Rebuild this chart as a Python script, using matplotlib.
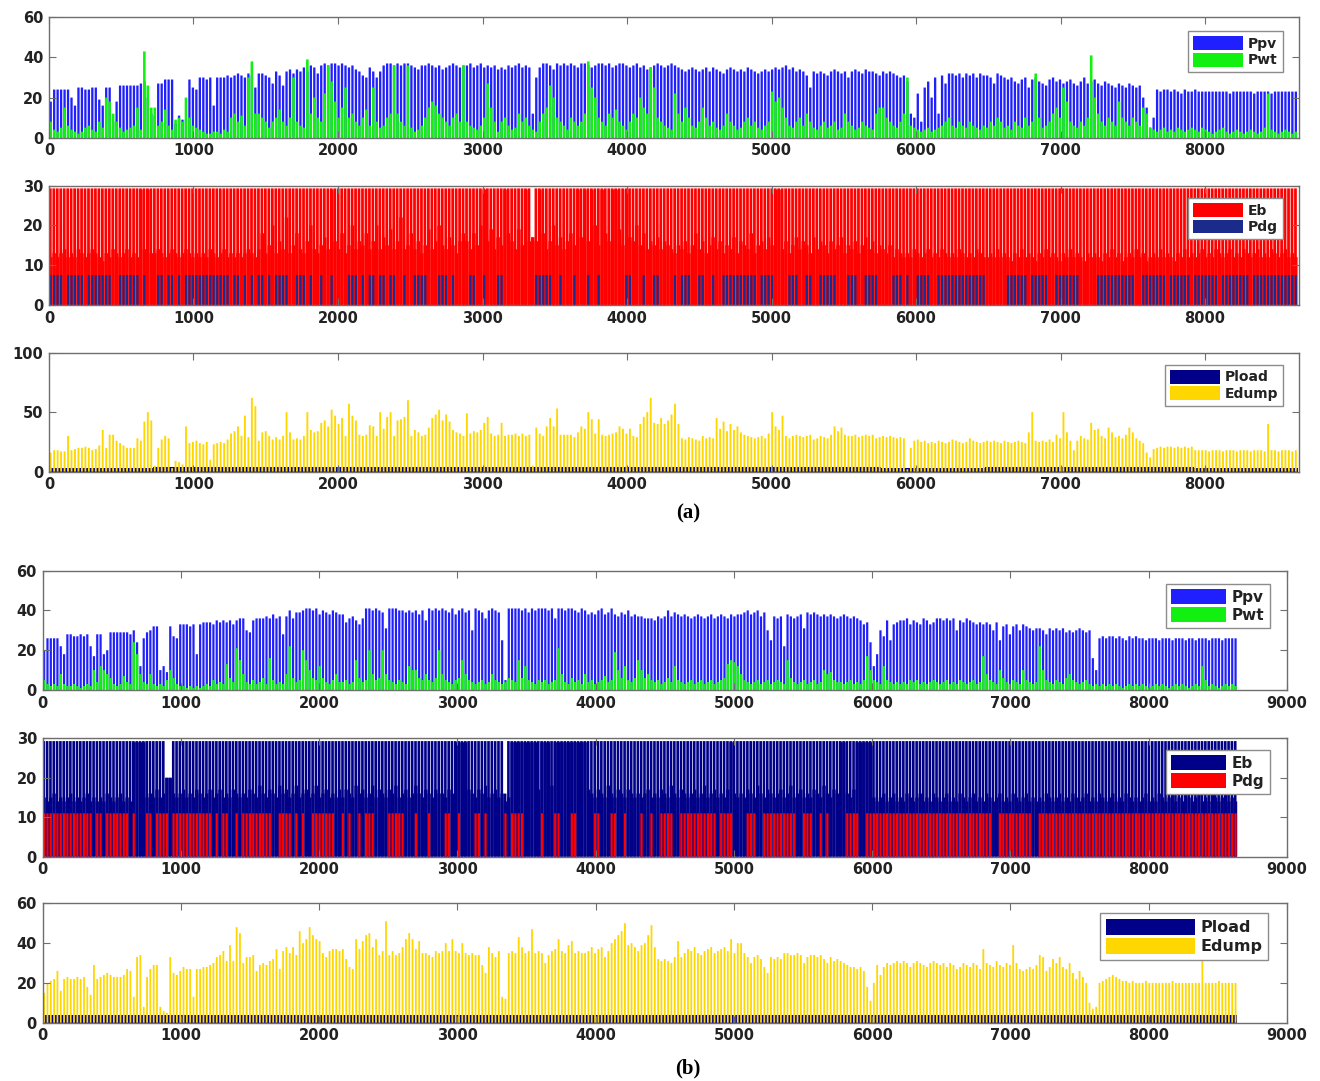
import numpy as np
import matplotlib
matplotlib.use("Agg")
import matplotlib.pyplot as plt
from matplotlib.patches import Patch

# ---- daily peak values, one row per 30-day block (360 days = 8640 h) ----
ppv_a = [
    18, 24, 24, 24, 24, 24, 20, 16, 25, 25, 24, 24, 25, 25, 19, 16, 25, 25, 8, 18, 26, 26, 26, 26, 26, 26, 27, 28, 20, 12,
    11, 27, 27, 29, 29, 29, 7, 11, 9, 9, 29, 25, 24, 30, 30, 29, 30, 16, 30, 30, 30, 31, 30, 31, 32, 31, 30, 32, 31, 25,
    32, 32, 31, 30, 27, 33, 31, 26, 33, 34, 32, 34, 33, 35, 33, 36, 35, 32, 36, 37, 36, 37, 37, 36, 37, 36, 35, 36, 34, 33,
    31, 30, 35, 33, 30, 33, 36, 37, 37, 36, 37, 36, 37, 37, 36, 35, 34, 36, 36, 37, 36, 35, 36, 34, 35, 36, 37, 36, 35, 36,
    36, 37, 35, 36, 37, 35, 36, 35, 36, 34, 35, 34, 36, 35, 36, 37, 35, 36, 35, 12, 30, 35, 37, 37, 36, 34, 37, 36, 37, 36,
    37, 36, 35, 37, 37, 36, 35, 36, 37, 37, 36, 37, 35, 36, 37, 37, 36, 35, 36, 37, 35, 36, 34, 35, 36, 37, 36, 35, 36, 37,
    36, 35, 34, 33, 34, 35, 34, 33, 34, 35, 33, 35, 34, 33, 32, 34, 35, 34, 33, 34, 33, 35, 34, 33, 32, 33, 34, 33, 34, 35,
    34, 35, 36, 34, 35, 33, 34, 33, 31, 25, 33, 32, 33, 32, 31, 33, 34, 33, 32, 33, 30, 33, 34, 33, 32, 34, 33, 33, 32, 31,
    33, 32, 33, 32, 31, 30, 31, 28, 12, 10, 22, 8, 25, 28, 20, 30, 12, 31, 27, 32, 32, 31, 32, 30, 32, 31, 32, 30, 32, 31,
    31, 30, 27, 32, 31, 30, 29, 30, 28, 27, 29, 30, 25, 29, 30, 28, 27, 26, 29, 30, 28, 29, 27, 28, 29, 27, 26, 28, 30, 27,
    28, 29, 27, 26, 28, 27, 26, 25, 27, 26, 25, 27, 26, 25, 26, 20, 15, 5, 10, 24, 23, 24, 24, 23, 24, 23, 22, 24, 23, 23,
    24, 23, 23, 23, 23, 23, 23, 23, 23, 23, 22, 23, 23, 23, 23, 23, 23, 22, 23, 23, 23, 23, 22, 23, 23, 23, 23, 23, 23, 23,
]
pwt_a = [
    8, 4, 3, 5, 15, 6, 4, 3, 2, 3, 5, 6, 4, 3, 8, 5, 20, 18, 12, 8, 5, 3, 4, 5, 6, 15, 4, 43, 26, 15,
    15, 6, 8, 14, 6, 4, 9, 10, 8, 20, 10, 6, 5, 4, 3, 2, 2, 3, 3, 2, 4, 3, 10, 12, 8, 11, 6, 30, 38, 12,
    12, 10, 8, 5, 8, 10, 14, 8, 6, 10, 30, 8, 6, 5, 39, 12, 20, 10, 8, 22, 36, 28, 18, 10, 15, 25, 10, 12, 8, 6,
    10, 14, 6, 25, 8, 5, 6, 10, 12, 36, 12, 8, 6, 36, 5, 3, 4, 6, 10, 15, 18, 16, 12, 10, 8, 6, 10, 12, 8, 36,
    8, 6, 5, 4, 6, 10, 27, 15, 8, 3, 8, 10, 6, 4, 5, 12, 8, 10, 6, 4, 3, 8, 12, 15, 26, 20, 10, 8, 6, 4,
    10, 8, 6, 8, 12, 38, 25, 20, 10, 8, 6, 12, 10, 14, 8, 6, 4, 8, 12, 10, 20, 15, 12, 35, 25, 10, 8, 6, 5, 4,
    22, 12, 8, 15, 10, 6, 5, 8, 15, 10, 6, 8, 5, 4, 6, 12, 8, 6, 4, 5, 8, 10, 6, 8, 5, 4, 6, 8, 23, 18,
    20, 15, 10, 6, 5, 8, 10, 6, 12, 8, 5, 4, 6, 8, 5, 6, 8, 4, 5, 12, 8, 6, 4, 5, 8, 6, 5, 4, 12, 15,
    15, 10, 8, 6, 5, 8, 12, 30, 6, 5, 4, 3, 4, 5, 3, 4, 5, 6, 8, 10, 6, 5, 8, 6, 5, 8, 6, 5, 4, 6,
    5, 8, 6, 10, 8, 5, 6, 4, 8, 6, 5, 10, 6, 8, 32, 10, 5, 6, 8, 12, 15, 10, 25, 18, 8, 6, 5, 8, 6, 10,
    41, 20, 12, 8, 6, 10, 8, 6, 18, 10, 8, 6, 10, 8, 6, 15, 12, 5, 4, 3, 4, 5, 3, 4, 3, 5, 4, 3, 4, 5,
    4, 3, 5, 4, 3, 2, 3, 4, 5, 3, 2, 3, 4, 3, 2, 3, 4, 3, 2, 3, 5, 22, 4, 3, 2, 3, 4, 3, 2, 3,
]
# nightly minimum of battery energy (29 = stayed full)
eb_min_a = [
    12, 13, 12, 13, 14, 12, 13, 12, 14, 13, 12, 13, 14, 13, 12, 11, 13, 12, 14, 13, 12, 13, 14, 12, 13, 12, 29, 14, 29, 13,
    13, 14, 13, 12, 13, 14, 13, 12, 13, 14, 13, 12, 13, 12, 13, 12, 14, 13, 12, 13, 14, 12, 13, 12, 13, 12, 13, 14, 13, 12,
    14, 18, 13, 15, 20, 13, 16, 14, 22, 13, 15, 18, 14, 13, 16, 20, 14, 13, 15, 17, 14, 29, 16, 14, 18, 13, 15, 20, 14, 16,
    15, 18, 14, 16, 20, 14, 17, 15, 19, 14, 16, 22, 14, 15, 18, 14, 16, 13, 15, 19, 14, 16, 20, 15, 14, 17, 15, 13, 16, 18,
    16, 14, 18, 15, 20, 29, 16, 19, 14, 17, 15, 29, 18, 16, 14, 19, 15, 29, 16, 17, 16, 29, 18, 14, 16, 20, 15, 17, 14, 16,
    18, 15, 29, 17, 29, 16, 29, 20, 15, 29, 18, 16, 29, 29, 19, 15, 29, 17, 16, 20, 15, 18, 14, 16, 15, 17, 14, 16, 15, 14,
    13, 15, 14, 16, 13, 15, 18, 14, 16, 13, 15, 17, 14, 16, 13, 15, 14, 17, 13, 16, 15, 14, 18, 13, 15, 16, 14, 17, 15, 29,
    29, 14, 16, 13, 15, 17, 14, 16, 15, 13, 17, 14, 16, 15, 13, 16, 14, 15, 17, 13, 15, 14, 16, 13, 15, 17, 14, 16, 13, 15,
    14, 13, 15, 12, 14, 13, 12, 13, 12, 14, 13, 12, 13, 14, 12, 13, 12, 14, 13, 12, 13, 12, 14, 13, 12, 13, 12, 14, 13, 12,
    12, 13, 12, 14, 12, 13, 12, 11, 13, 12, 14, 12, 13, 12, 11, 13, 12, 14, 12, 13, 12, 11, 13, 12, 14, 12, 13, 12, 11, 13,
    12, 13, 12, 11, 13, 12, 14, 12, 13, 11, 12, 13, 12, 14, 12, 13, 11, 12, 13, 12, 14, 12, 13, 12, 11, 13, 12, 14, 12, 13,
    12, 13, 14, 12, 13, 12, 14, 13, 12, 13, 14, 12, 13, 12, 14, 13, 12, 13, 14, 12, 13, 12, 14, 13, 12, 13, 14, 12, 13, 12,
]
eb_notch_a = {139: 17}
# generator on-days as (first, last) runs
pdg_runs_a = [(0, 3), (5, 9), (11, 17), (20, 25), (27, 27), (31, 32), (34, 35), (37, 37), (39, 51), (53, 54),
              (56, 56), (58, 58), (60, 61), (63, 63), (65, 68), (71, 73), (75, 75), (78, 78), (81, 81), (86, 88),
              (90, 90), (92, 93), (95, 96), (98, 99), (102, 102), (105, 108), (112, 114), (116, 116), (121, 122),
              (125, 125), (129, 130), (140, 144), (147, 147), (151, 151), (155, 155), (158, 158), (166, 167),
              (171, 171), (174, 175), (180, 180), (182, 184), (187, 188), (191, 191), (194, 203), (205, 208),
              (213, 215), (218, 219), (222, 226), (230, 232), (235, 238), (243, 245), (247, 247), (250, 253),
              (256, 269), (276, 281), (283, 287), (290, 296), (302, 312), (315, 321), (323, 328), (330, 336),
              (338, 345), (347, 359)]
edump_a = [
    16, 18, 18, 17, 17, 30, 18, 19, 20, 20, 21, 20, 18, 19, 22, 35, 20, 31, 31, 26, 24, 22, 20, 20, 20, 28, 26, 42, 50, 43,
    5, 20, 27, 30, 28, 3, 9, 8, 6, 38, 24, 25, 26, 24, 23, 25, 10, 23, 24, 25, 24, 27, 32, 34, 38, 30, 47, 29, 62, 55,
    26, 33, 34, 30, 27, 29, 27, 30, 50, 33, 27, 28, 27, 30, 50, 35, 33, 34, 41, 43, 38, 52, 47, 40, 45, 30, 57, 47, 43, 31,
    30, 31, 39, 38, 30, 50, 36, 46, 50, 30, 43, 44, 46, 60, 30, 35, 33, 30, 31, 37, 45, 48, 52, 43, 48, 42, 35, 33, 32, 30,
    49, 32, 34, 33, 35, 41, 46, 32, 30, 31, 41, 30, 31, 31, 32, 30, 32, 30, 31, 5, 37, 32, 30, 38, 45, 38, 53, 31, 31, 31,
    31, 29, 33, 38, 36, 50, 44, 32, 44, 31, 30, 31, 32, 33, 38, 36, 32, 36, 30, 29, 40, 46, 50, 62, 41, 40, 45, 40, 43, 48,
    57, 40, 28, 27, 29, 28, 27, 26, 30, 28, 29, 28, 45, 36, 42, 34, 40, 35, 38, 33, 31, 30, 29, 28, 29, 30, 28, 32, 50, 38,
    35, 47, 30, 28, 30, 31, 30, 29, 30, 31, 27, 28, 30, 29, 28, 31, 38, 34, 37, 31, 30, 30, 31, 29, 30, 31, 30, 31, 28, 29,
    30, 29, 30, 29, 28, 29, 28, 2, 20, 26, 27, 25, 26, 24, 25, 24, 26, 25, 24, 25, 27, 26, 25, 24, 25, 28, 26, 25, 24, 25,
    26, 25, 26, 25, 24, 26, 25, 24, 25, 26, 25, 24, 33, 50, 26, 25, 26, 25, 27, 25, 31, 28, 50, 33, 26, 18, 26, 30, 28, 27,
    41, 35, 36, 30, 28, 37, 33, 29, 30, 28, 31, 37, 33, 28, 26, 24, 16, 12, 19, 20, 21, 20, 21, 21, 20, 21, 20, 21, 20, 21,
    18, 18, 18, 18, 17, 18, 18, 18, 17, 18, 18, 18, 17, 18, 18, 18, 17, 18, 18, 18, 17, 40, 18, 18, 17, 18, 18, 18, 17, 18,
]
pload_a = [3.4, 3.5, 3.5, 3.6, 3.6, 3.5, 3.5, 3.5, 3.4, 3.5, 3.5, 3.4]   # monthly

ppv_b = [
    20, 26, 26, 26, 26, 22, 18, 28, 28, 27, 27, 28, 27, 28, 22, 17, 28, 28, 18, 20, 29, 29, 29, 29, 29, 29, 28, 30, 24, 12,
    26, 29, 30, 32, 32, 10, 12, 9, 32, 27, 26, 33, 33, 33, 32, 33, 18, 33, 34, 34, 34, 33, 35, 34, 35, 34, 35, 33, 35, 36,
    36, 30, 29, 35, 36, 36, 36, 37, 36, 38, 36, 37, 28, 37, 40, 36, 39, 39, 40, 41, 41, 40, 41, 38, 40, 39, 38, 40, 39, 38,
    38, 34, 36, 37, 35, 33, 36, 41, 41, 40, 41, 40, 39, 31, 41, 41, 41, 40, 40, 39, 40, 39, 40, 38, 40, 35, 41, 40, 41, 40,
    41, 40, 39, 41, 38, 40, 41, 39, 40, 30, 41, 40, 39, 36, 40, 41, 40, 39, 25, 5, 41, 41, 41, 41, 40, 41, 39, 41, 40, 41,
    41, 41, 40, 41, 36, 41, 41, 40, 41, 41, 40, 39, 41, 40, 38, 39, 38, 40, 41, 38, 39, 41, 38, 37, 39, 38, 40, 37, 38, 37,
    37, 36, 36, 36, 35, 37, 36, 37, 40, 37, 39, 38, 37, 38, 37, 36, 37, 38, 37, 36, 37, 38, 36, 37, 38, 37, 36, 38, 37, 38,
    38, 39, 40, 38, 39, 40, 37, 39, 30, 25, 37, 36, 37, 22, 38, 37, 36, 37, 38, 31, 39, 38, 39, 38, 37, 38, 37, 38, 37, 36,
    37, 38, 37, 36, 37, 36, 35, 33, 34, 24, 12, 18, 30, 27, 35, 25, 33, 34, 35, 35, 36, 33, 35, 34, 33, 36, 35, 33, 34, 36,
    36, 35, 36, 35, 36, 30, 35, 34, 36, 35, 34, 33, 34, 33, 34, 33, 30, 34, 25, 32, 33, 28, 32, 33, 30, 33, 32, 31, 30, 31,
    31, 30, 28, 31, 30, 31, 30, 31, 29, 30, 29, 30, 31, 30, 29, 30, 16, 10, 26, 27, 26, 27, 27, 26, 27, 26, 25, 27, 26, 27,
    26, 26, 25, 26, 26, 26, 25, 26, 26, 26, 25, 26, 26, 26, 25, 26, 26, 25, 26, 26, 26, 25, 26, 26, 26, 25, 26, 26, 26, 26,
]
pwt_b = [
    5, 3, 2, 3, 2, 8, 3, 2, 2, 3, 2, 1, 2, 3, 2, 10, 4, 12, 10, 8, 6, 3, 2, 3, 7, 4, 3, 24, 18, 8,
    4, 3, 8, 3, 2, 3, 2, 5, 10, 6, 3, 2, 2, 1, 2, 1, 2, 1, 2, 3, 2, 5, 3, 4, 3, 13, 6, 4, 21, 15,
    8, 4, 3, 5, 3, 4, 6, 3, 16, 5, 3, 4, 3, 8, 22, 6, 4, 5, 20, 15, 10, 6, 5, 12, 6, 4, 3, 5, 8, 4,
    4, 5, 3, 4, 15, 6, 4, 5, 20, 8, 5, 6, 20, 8, 5, 4, 3, 5, 4, 3, 12, 10, 10, 6, 5, 8, 5, 4, 6, 20,
    8, 5, 4, 3, 5, 6, 15, 8, 5, 4, 3, 4, 5, 3, 4, 8, 5, 4, 3, 4, 6, 5, 4, 15, 6, 12, 5, 4, 3, 5,
    4, 5, 3, 4, 5, 21, 8, 4, 3, 6, 4, 5, 3, 8, 4, 5, 3, 4, 5, 7, 4, 5, 19, 10, 6, 12, 5, 4, 6, 15,
    10, 6, 8, 5, 4, 5, 3, 4, 6, 4, 12, 5, 4, 3, 4, 5, 3, 4, 5, 3, 4, 5, 3, 4, 5, 6, 13, 15, 14, 12,
    8, 5, 4, 3, 4, 5, 3, 4, 5, 3, 4, 5, 4, 3, 15, 6, 4, 3, 4, 5, 3, 4, 5, 3, 4, 10, 8, 9, 5, 4,
    4, 3, 4, 5, 3, 4, 3, 5, 17, 10, 5, 4, 3, 12, 5, 4, 3, 4, 3, 4, 3, 5, 4, 5, 3, 4, 3, 4, 5, 4,
    3, 4, 5, 3, 4, 3, 5, 4, 3, 4, 5, 3, 4, 17, 8, 5, 4, 3, 10, 6, 4, 3, 5, 4, 3, 10, 5, 4, 3, 4,
    22, 10, 5, 4, 3, 5, 4, 3, 6, 8, 5, 4, 3, 4, 5, 3, 2, 3, 2, 3, 2, 3, 2, 3, 2, 1, 2, 3, 2, 3,
    2, 3, 2, 1, 2, 3, 2, 3, 2, 1, 2, 3, 2, 3, 2, 1, 2, 3, 2, 12, 5, 2, 3, 2, 1, 2, 3, 2, 3, 2,
]
eb_min_b = [
    15, 14, 15, 16, 14, 15, 14, 15, 16, 14, 15, 14, 15, 16, 14, 15, 14, 15, 14, 16, 15, 14, 15, 16, 14, 15, 14, 29, 29, 29,
    29, 15, 16, 15, 17, 15, 16, 20, 20, 16, 15, 16, 17, 15, 16, 15, 17, 16, 15, 16, 17, 15, 16, 17, 15, 16, 15, 17, 16, 15,
    16, 15, 17, 16, 15, 18, 16, 15, 17, 16, 15, 18, 16, 17, 15, 16, 18, 15, 16, 17, 15, 16, 18, 15, 16, 17, 15, 16, 15, 17,
    15, 17, 16, 15, 18, 16, 17, 15, 16, 18, 15, 17, 16, 15, 17, 16, 18, 15, 16, 17, 15, 16, 18, 16, 15, 17, 16, 15, 17, 16,
    16, 15, 17, 16, 29, 29, 29, 29, 17, 16, 15, 17, 16, 18, 15, 16, 17, 15, 16, 14, 15, 29, 29, 29, 29, 29, 29, 29, 29, 17,
    29, 29, 29, 18, 29, 29, 29, 29, 29, 29, 29, 29, 29, 29, 17, 16, 15, 17, 16, 15, 18, 16, 15, 17, 16, 15, 17, 16, 15, 16,
    15, 16, 17, 15, 16, 15, 17, 16, 15, 18, 16, 15, 17, 16, 15, 16, 17, 15, 16, 18, 15, 16, 17, 15, 16, 15, 17, 29, 16, 15,
    16, 15, 17, 16, 15, 18, 16, 15, 17, 16, 15, 16, 17, 15, 16, 18, 15, 16, 17, 15, 16, 15, 17, 16, 15, 18, 16, 15, 17, 16,
    29, 29, 16, 15, 17, 29, 29, 29, 29, 29, 15, 14, 15, 16, 14, 15, 16, 14, 15, 14, 16, 15, 14, 15, 16, 14, 15, 14, 16, 15,
    14, 15, 16, 14, 15, 14, 16, 15, 14, 15, 16, 14, 15, 14, 16, 15, 14, 15, 16, 14, 15, 14, 16, 15, 14, 15, 16, 14, 15, 14,
    15, 14, 16, 15, 14, 15, 16, 14, 15, 14, 16, 15, 14, 15, 16, 14, 15, 14, 16, 15, 14, 15, 16, 14, 15, 14, 16, 15, 14, 15,
    14, 15, 16, 14, 15, 14, 16, 15, 14, 15, 16, 14, 15, 14, 16, 15, 14, 15, 16, 14, 15, 14, 16, 15, 14, 15, 16, 14, 15, 14,
]
eb_notch_b = {37: 20, 38: 20, 139: 16}
pdg_runs_b = [(0, 14), (16, 17), (19, 25), (27, 27), (31, 32), (34, 37), (39, 50), (52, 52), (54, 55), (58, 58),
              (60, 68), (71, 74), (76, 76), (78, 78), (81, 87), (90, 90), (92, 92), (95, 95), (97, 99), (104, 108),
              (112, 112), (116, 116), (121, 122), (125, 125), (130, 131), (133, 133), (139, 139), (141, 144),
              (150, 150), (154, 155), (159, 160), (166, 167), (171, 172), (175, 175), (180, 180), (183, 183),
              (186, 189), (192, 202), (204, 207), (212, 214), (217, 226), (229, 231), (234, 234), (236, 236),
              (242, 245), (248, 285), (288, 297), (300, 359)]
edump_b = [
    15, 20, 21, 22, 26, 16, 22, 23, 22, 22, 23, 22, 23, 18, 14, 29, 22, 23, 24, 25, 24, 23, 23, 23, 24, 27, 26, 13, 33, 34,
    8, 23, 27, 29, 29, 8, 6, 5, 33, 25, 24, 26, 28, 27, 27, 13, 27, 27, 28, 28, 29, 30, 33, 34, 36, 31, 39, 31, 48, 45,
    30, 33, 33, 34, 26, 29, 30, 29, 31, 32, 37, 27, 36, 38, 35, 38, 34, 46, 40, 42, 48, 44, 42, 41, 35, 33, 36, 37, 37, 36,
    37, 32, 28, 27, 42, 37, 41, 44, 45, 38, 42, 34, 36, 51, 34, 36, 34, 35, 38, 42, 45, 42, 37, 41, 35, 35, 34, 33, 36, 35,
    36, 40, 36, 42, 36, 35, 40, 35, 34, 35, 34, 34, 29, 25, 38, 35, 33, 36, 13, 12, 35, 36, 35, 43, 38, 35, 36, 47, 35, 36,
    35, 30, 34, 36, 37, 42, 36, 35, 39, 41, 35, 36, 35, 35, 36, 38, 35, 37, 38, 33, 36, 40, 42, 44, 46, 50, 39, 40, 38, 36,
    39, 40, 44, 49, 38, 32, 31, 32, 31, 30, 33, 41, 33, 35, 37, 36, 38, 35, 34, 36, 37, 38, 35, 36, 37, 38, 36, 42, 35, 40,
    40, 35, 33, 30, 33, 34, 32, 28, 25, 33, 32, 33, 32, 35, 35, 34, 34, 35, 34, 30, 33, 34, 34, 33, 34, 32, 30, 33, 31, 32,
    31, 30, 29, 28, 28, 27, 28, 26, 18, 11, 20, 29, 24, 28, 30, 29, 30, 31, 30, 31, 30, 28, 30, 31, 30, 29, 28, 30, 31, 30,
    29, 30, 28, 30, 29, 27, 28, 30, 29, 28, 30, 29, 27, 37, 30, 29, 28, 31, 29, 28, 30, 29, 39, 30, 27, 26, 27, 28, 27, 29,
    34, 33, 26, 28, 32, 30, 33, 28, 27, 30, 25, 22, 26, 23, 20, 10, 7, 8, 20, 21, 22, 23, 24, 23, 22, 21, 21, 20, 21, 20,
    20, 20, 21, 20, 20, 20, 20, 20, 20, 20, 21, 20, 20, 20, 20, 20, 20, 20, 20, 32, 20, 20, 20, 20, 21, 20, 20, 20, 20, 20,
]
pload_b = [3.9, 4.0, 4.0, 4.1, 4.1, 4.0, 4.0, 4.0, 3.9, 4.0, 4.0, 3.9]   # monthly

EB_FULL = 29.3
PDG_A, PDG_B = 7.5, 11.0

BLUE = "#2020ff"
GREEN = "#11f011"
RED = "#ff0000"
NAVY = "#000088"
NAVY_A = "#1a2b8c"
GOLD = "#ffd700"
FRAME = "#6e6e6e"
INK = "#222222"

plt.rcParams["font.family"] = ["DejaVu Sans"]
plt.rcParams["font.weight"] = "bold"


def day_x(n):
    return np.arange(n) * 24 + 12


def daily_bars(ax, values, width, color):
    v = np.asarray(values, float)
    ax.bar(day_x(len(v)), v, width=width, color=color, linewidth=0, snap=False)


def battery(ax, eb_min, notch, color):
    v = np.asarray(eb_min, float)
    days = np.arange(len(v))
    # the level it drops to overnight...
    ax.bar(day_x(len(v)), v, width=24, color=color, linewidth=0, snap=False)
    # ...and the charged part of each day, leaving a thin discharge slit
    tops = np.array([notch.get(d, EB_FULL) for d in days])
    ax.bar(days * 24 + 9.5, tops, width=19, color=color, linewidth=0, snap=False)


def generator(ax, runs, level, width, color):
    days = np.concatenate([np.arange(a, b + 1) for a, b in runs])
    ax.bar(days * 24 + 12, np.full(len(days), level), width=width, color=color,
           linewidth=0, snap=False)


def load(ax, monthly, color):
    v = np.asarray(monthly, float)
    ax.bar(np.arange(len(v)) * 720 + 360, v, width=720, color=color, linewidth=0)


def style(ax, xmax, xticks, yticks):
    ax.set_xlim(0, xmax)
    ax.set_ylim(yticks[0], yticks[-1])
    ax.set_xticks(xticks)
    ax.set_yticks(yticks)
    ax.tick_params(direction="in", length=5, width=0.8, top=True, right=True,
                   labelsize=10.5, colors=FRAME, labelcolor=INK, pad=4)
    for s in ax.spines.values():
        s.set_color(FRAME)
        s.set_linewidth(1.0)


def legend(ax, labels, colors, anchor, fs, hl):
    handles = [Patch(facecolor=c, edgecolor="none") for c in colors]
    leg = ax.legend(handles, labels, loc="upper right", bbox_to_anchor=anchor,
                    prop={"size": fs, "weight": "bold"}, handlelength=hl, handleheight=1.15,
                    handletextpad=0.35, borderpad=0.35, labelspacing=0.15, borderaxespad=0,
                    fancybox=False, framealpha=1, edgecolor="#8c8c8c")
    leg.get_frame().set_linewidth(1.0)
    for t in leg.get_texts():
        t.set_color(INK)


fig = plt.figure(figsize=(13.2, 10.81), dpi=100)

la, wa = 0.0371, 0.947
lb, wb = 0.0322, 0.9428
ax_a1 = fig.add_axes([la, 0.8726, wa, 0.1114])
ax_a2 = fig.add_axes([la, 0.7179, wa, 0.1104])
ax_a3 = fig.add_axes([la, 0.5637, wa, 0.1101])
ax_b1 = fig.add_axes([lb, 0.3617, wb, 0.1104])
ax_b2 = fig.add_axes([lb, 0.2075, wb, 0.1095])
ax_b3 = fig.add_axes([lb, 0.0539, wb, 0.1105])

xt_a = np.arange(0, 9000, 1000)
xt_b = np.arange(0, 10000, 1000)

# (a)
daily_bars(ax_a1, ppv_a, 16, BLUE)
daily_bars(ax_a1, pwt_a, 18, GREEN)
style(ax_a1, 8650, xt_a, [0, 20, 40, 60])
legend(ax_a1, ["Ppv", "Pwt"], [BLUE, GREEN], (0.987, 0.884), 10, 3.6)

battery(ax_a2, eb_min_a, eb_notch_a, RED)
generator(ax_a2, pdg_runs_a, PDG_A, 15, NAVY_A)
style(ax_a2, 8650, xt_a, [0, 10, 20, 30])
legend(ax_a2, ["Eb", "Pdg"], [RED, NAVY_A], (0.987, 0.895), 10, 3.6)

load(ax_a3, pload_a, NAVY)
daily_bars(ax_a3, edump_a, 13, GOLD)
style(ax_a3, 8650, xt_a, [0, 50, 100])
legend(ax_a3, ["Pload", "Edump"], [NAVY, GOLD], (0.987, 0.897), 10, 3.6)

# (b)
daily_bars(ax_b1, ppv_b, 16, BLUE)
daily_bars(ax_b1, pwt_b, 18, GREEN)
style(ax_b1, 9000, xt_b, [0, 20, 40, 60])
legend(ax_b1, ["Ppv", "Pwt"], [BLUE, GREEN], (0.986, 0.889), 11, 3.6)

battery(ax_b2, eb_min_b, eb_notch_b, NAVY)
generator(ax_b2, pdg_runs_b, PDG_B, 16, RED)
style(ax_b2, 9000, xt_b, [0, 10, 20, 30])
legend(ax_b2, ["Eb", "Pdg"], [NAVY, RED], (0.986, 0.902), 11, 3.6)

load(ax_b3, pload_b, NAVY)
daily_bars(ax_b3, edump_b, 13, GOLD)
style(ax_b3, 9000, xt_b, [0, 20, 40, 60])
legend(ax_b3, ["Pload", "Edump"], [NAVY, GOLD], (0.985, 0.915), 11.5, 5.6)

fig.text(688 / 1320, 1 - 513 / 1081, "(a)", ha="center", va="center",
         family="Liberation Serif", weight="bold", size=15, color="black")
fig.text(688 / 1320, 1 - 1068 / 1081, "(b)", ha="center", va="center",
         family="Liberation Serif", weight="bold", size=15, color="black")

fig.savefig("out.png", dpi=100)
